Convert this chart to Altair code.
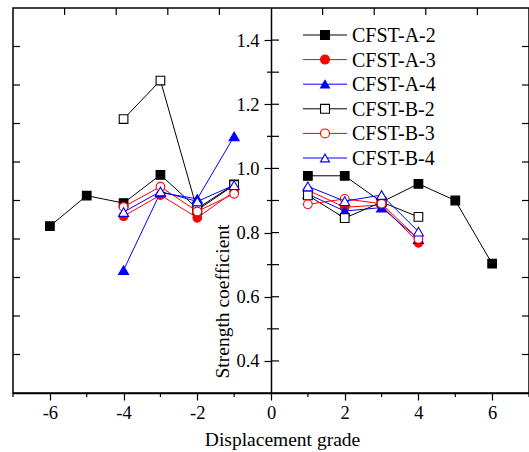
import altair as alt
import pandas as pd

# ---------------- data ----------------
series_names = ["CFST-A-2", "CFST-A-3", "CFST-A-4", "CFST-B-2", "CFST-B-3", "CFST-B-4"]
series_colors = ["black", "red", "blue", "black", "red", "blue"]
series_shapes = ["square", "circle", "triangle-up", "square", "circle", "triangle-up"]
series_fills = ["black", "red", "blue", "white", "white", "white"]
series_sizes = [75, 75, 100, 75, 75, 100]

x_neg_long = [-6, -5, -4, -3, -2, -1]
x_pos_long = [1, 2, 3, 4, 5, 6]
x_neg = [-4, -3, -2, -1]
x_pos = [1, 2, 3, 4]

a2_neg = [0.820, 0.915, 0.892, 0.980, 0.875, 0.950]
a2_pos = [0.977, 0.977, 0.895, 0.952, 0.900, 0.703]
a3_neg = [0.851, 0.917, 0.846, 0.928]
a3_pos = [0.932, 0.879, 0.886, 0.768]
a4_neg = [0.683, 0.925, 0.905, 1.100]
a4_pos = [0.920, 0.867, 0.878, 0.780]
b2_neg = [1.154, 1.274, 0.870, 0.948]
b2_pos = [0.916, 0.845, 0.895, 0.849]
b3_neg = [0.880, 0.943, 0.866, 0.921]
b3_pos = [0.888, 0.905, 0.890, 0.780]
b4_neg = [0.864, 0.928, 0.897, 0.948]
b4_pos = [0.944, 0.898, 0.917, 0.803]

x_label_ticks = [-6, -4, -2, 0, 2, 4, 6]
x_minor_ticks = [-7, -5, -3, -1, 1, 3, 5, 7]
y_label_ticks = [0.4, 0.6, 0.8, 1.0, 1.2, 1.4]
y_minor_ticks = [0.5, 0.7, 0.9, 1.1, 1.3]
frame_x_ticks = [-5.6, -4.2, -2.8, -1.4, 1.4, 2.8, 4.2, 5.6]
frame_y_ticks = [0.42, 0.54, 0.66, 0.78, 0.90, 1.02, 1.14, 1.26, 1.38]

x_domain = [-7, 7]
y_domain = [0.3, 1.5]

# ---------------- build tables ----------------
series_data = {
    "CFST-A-2": (x_neg_long, a2_neg, x_pos_long, a2_pos),
    "CFST-A-3": (x_neg, a3_neg, x_pos, a3_pos),
    "CFST-A-4": (x_neg, a4_neg, x_pos, a4_pos),
    "CFST-B-2": (x_neg, b2_neg, x_pos, b2_pos),
    "CFST-B-3": (x_neg, b3_neg, x_pos, b3_pos),
    "CFST-B-4": (x_neg, b4_neg, x_pos, b4_pos),
}
rows = []
for name in series_names:
    xn, yn, xp, yp = series_data[name]
    for xv, yv in zip(xn, yn):
        rows.append({"series": name, "x": xv, "y": yv, "side": "neg"})
    for xv, yv in zip(xp, yp):
        rows.append({"series": name, "x": xv, "y": yv, "side": "pos"})
df = pd.DataFrame(rows)

legend_df = pd.DataFrame({"series": series_names, "row": list(range(len(series_names)))})

W, H = 516, 385
CX = W / 2
FONT = "Liberation Serif"

xs = alt.Scale(domain=x_domain, nice=False, zero=False)
ys = alt.Scale(domain=y_domain, nice=False, zero=False)

# base layer carrying the axes
axes_layer = alt.Chart(pd.DataFrame({"x": [0.0], "y": [1.0]})).mark_point(opacity=0).encode(
    x=alt.X("x:Q", scale=xs, axis=alt.Axis(
        values=x_label_ticks, labelExpr="'' + datum.value", tickSize=7, tickWidth=1.2,
        domainWidth=1.5, labelPadding=3, labelFontSize=18.5, grid=False,
        title="Displacement grade", titleFontSize=19.5, titleX=269, titleY=52,
        titleBaseline="alphabetic", titleAlign="center")),
    y=alt.Y("y:Q", scale=ys, axis=alt.Axis(
        values=y_label_ticks, format=".1f", tickSize=7, tickWidth=1.2, offset=-CX,
        domainWidth=1.5, labelPadding=5, labelFontSize=18.5, grid=False,
        title="Strength coefficient", titleFontSize=19.5, titleX=-43, titleY=293,
        titleBaseline="alphabetic", titleAlign="center", titleAngle=270)),
)

layers = [axes_layer]

# decorative ticks
def hrule(vals, x1, x2):
    return alt.Chart(pd.DataFrame({"y": vals})).mark_rule(color="black", strokeWidth=1.2).encode(
        y=alt.Y("y:Q", scale=ys, axis=None), x=alt.value(x1), x2=alt.value(x2))

def vrule(vals, y1, y2):
    return alt.Chart(pd.DataFrame({"x": vals})).mark_rule(color="black", strokeWidth=1.2).encode(
        x=alt.X("x:Q", scale=xs, axis=None), y=alt.value(y1), y2=alt.value(y2))

layers.append(hrule(y_label_ticks + y_minor_ticks, CX, CX + 8))
layers.append(hrule(y_minor_ticks, CX - 4, CX))
layers.append(hrule(frame_y_ticks, 0, 7))
layers.append(hrule(frame_y_ticks, W - 7, W))
layers.append(vrule(frame_x_ticks, 0, 7))
layers.append(vrule(x_minor_ticks, H, H + 4))

# series
for name, col, shp, fil, sz in zip(series_names, series_colors, series_shapes, series_fills, series_sizes):
    base = alt.Chart(df).transform_filter(alt.datum.series == name)
    line = base.mark_line(color=col, strokeWidth=1).encode(
        x=alt.X("x:Q", scale=xs, axis=None),
        y=alt.Y("y:Q", scale=ys, axis=None),
        detail="side:N")
    pts = base.mark_point(shape=shp, filled=True, fill=fil, stroke=col, strokeWidth=1.1,
                          size=sz, opacity=1).encode(
        x=alt.X("x:Q", scale=xs, axis=None),
        y=alt.Y("y:Q", scale=ys, axis=None))
    layers += [line, pts]

# manual legend
ls = alt.Scale(domain=[0, 5], range=[27, 150])
sname = alt.Scale(domain=series_names, range=series_colors)
leg_line = alt.Chart(legend_df).mark_rule(strokeWidth=1).encode(
    y=alt.Y("row:Q", scale=ls, axis=None), x=alt.value(290), x2=alt.value(334),
    color=alt.Color("series:N", scale=sname, legend=None))
leg_pts = alt.Chart(legend_df).mark_point(filled=True, strokeWidth=1.1, size=80, opacity=1).encode(
    y=alt.Y("row:Q", scale=ls, axis=None), x=alt.value(312),
    shape=alt.Shape("series:N", scale=alt.Scale(domain=series_names, range=series_shapes), legend=None),
    fill=alt.Fill("series:N", scale=alt.Scale(domain=series_names, range=series_fills), legend=None),
    stroke=alt.Stroke("series:N", scale=sname, legend=None))
leg_txt = alt.Chart(legend_df).mark_text(align="left", baseline="middle", font=FONT, fontSize=20,
                                         color="black", dy=1).encode(
    y=alt.Y("row:Q", scale=ls, axis=None), x=alt.value(339), text="series:N")
layers += [leg_line, leg_pts, leg_txt]

chart = alt.layer(*layers).resolve_scale(x="independent", y="independent").properties(
    width=W, height=H,
    padding={"left": 13, "top": 8, "right": 0, "bottom": 59},
    autosize=alt.AutoSizeParams(type="none"),
    background="white",
).configure_view(stroke="black", strokeWidth=1.5).configure_axis(
    domainColor="black", tickColor="black", labelColor="black", titleColor="black",
    labelFont=FONT, titleFont=FONT, titleFontWeight="normal",
)

chart.save("out.html", embed_options={"renderer": "svg", "actions": False})
